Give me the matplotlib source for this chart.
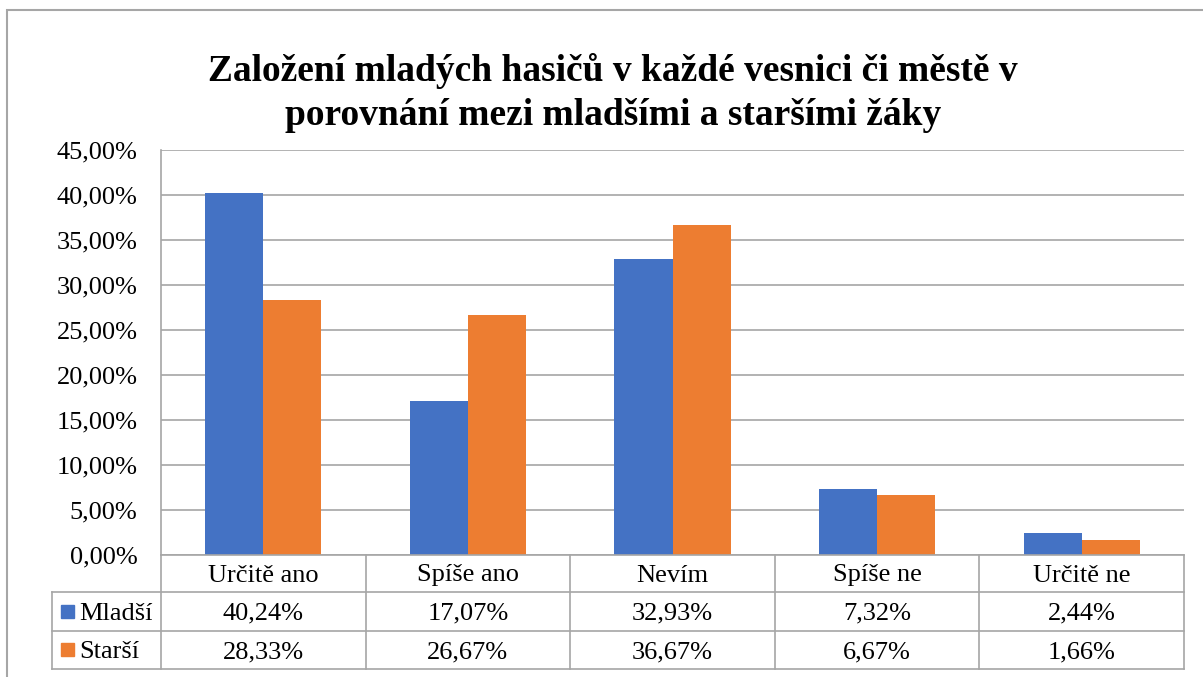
import matplotlib
matplotlib.use("Agg")
import matplotlib.pyplot as plt
from matplotlib.patches import Rectangle
from matplotlib.lines import Line2D

categories = ["Určitě ano", "Spíše ano", "Nevím", "Spíše ne", "Určitě ne"]
series_names = ["Mladší", "Starší"]
mladsi = [40.24, 17.07, 32.93, 7.32, 2.44]
starsi = [28.33, 26.67, 36.67, 6.67, 1.66]
y_ticks = [0, 5, 10, 15, 20, 25, 30, 35, 40, 45]

colors = ["#4472C4", "#ED7D31"]
grid_col = "#A6A6A6"
W, H = 1203, 677
fs = 19

plt.rcParams["font.family"] = ["Liberation Serif", "DejaVu Serif"]

fig = plt.figure(figsize=(W / 100, H / 100), dpi=100)


def fx(px):
    return px / W


def fy(py):
    return 1 - py / H


def pct(v):
    return f"{v:.2f}".replace(".", ",") + "%"


# plot area in pixels
left, right, top, bottom = 161, 1184, 150, 555
ax = fig.add_axes([fx(left), fy(bottom), fx(right - left), (bottom - top) / H])

bw = 0.2835
xs = range(len(categories))
ax.bar([x - bw / 2 for x in xs], mladsi, width=bw, color=colors[0], zorder=3)
ax.bar([x + bw / 2 for x in xs], starsi, width=bw, color=colors[1], zorder=3)

ax.set_xlim(-0.5, len(categories) - 0.5)
ax.set_ylim(0, 45)
ax.set_yticks(y_ticks)
ax.set_yticklabels([pct(v) for v in y_ticks], fontsize=fs)
ax.set_xticks([])
ax.tick_params(axis="y", length=0, pad=17)
ax.grid(axis="y", color=grid_col, linewidth=1.2, zorder=0)
for side in ["top", "right", "bottom"]:
    ax.spines[side].set_visible(False)
ax.spines["left"].set_color(grid_col)
ax.spines["left"].set_linewidth(1.2)

# title
fig.text(fx(613), fy(93), "Založení mladých hasičů v každé vesnici či městě v\n"
         "porovnání mezi mladšími a staršími žáky",
         ha="center", va="center", fontsize=27, fontweight="bold", linespacing=1.3)

# data table below the plot
row_y = [555, 592, 631, 669]
col_x = [left + i * (right - left) / len(categories) for i in range(len(categories) + 1)]
key_x = 52
dy = 2  # nudge text down a little inside the cells


def hline(y, x0, x1):
    fig.add_artist(Line2D([fx(x0), fx(x1)], [fy(y), fy(y)], color=grid_col, lw=1.2))


def vline(x, y0, y1):
    fig.add_artist(Line2D([fx(x), fx(x)], [fy(y0), fy(y1)], color=grid_col, lw=1.2))


hline(row_y[0], left, right)
for y in row_y[1:]:
    hline(y, key_x, right)
vline(key_x, row_y[1], row_y[3])
for x in col_x:
    vline(x, row_y[0], row_y[3])

for i, cat in enumerate(categories):
    cx = (col_x[i] + col_x[i + 1]) / 2
    fig.text(fx(cx), fy((row_y[0] + row_y[1]) / 2 + dy), cat,
             ha="center", va="center", fontsize=fs)
    for r, vals in enumerate([mladsi, starsi]):
        cy = (row_y[r + 1] + row_y[r + 2]) / 2
        fig.text(fx(cx), fy(cy + dy), pct(vals[i]), ha="center", va="center", fontsize=fs)

for r, name in enumerate(series_names):
    cy = (row_y[r + 1] + row_y[r + 2]) / 2
    fig.add_artist(Rectangle((fx(61), fy(cy + 6)), fx(13), 13 / H, color=colors[r]))
    fig.text(fx(79), fy(cy + dy), name, ha="left", va="center", fontsize=fs)

# chart border
fig.add_artist(Rectangle((fx(7), fy(700)), fx(1220), 690 / H, fill=False,
                         edgecolor=grid_col, lw=1.5))

fig.savefig("out.png", dpi=100)
